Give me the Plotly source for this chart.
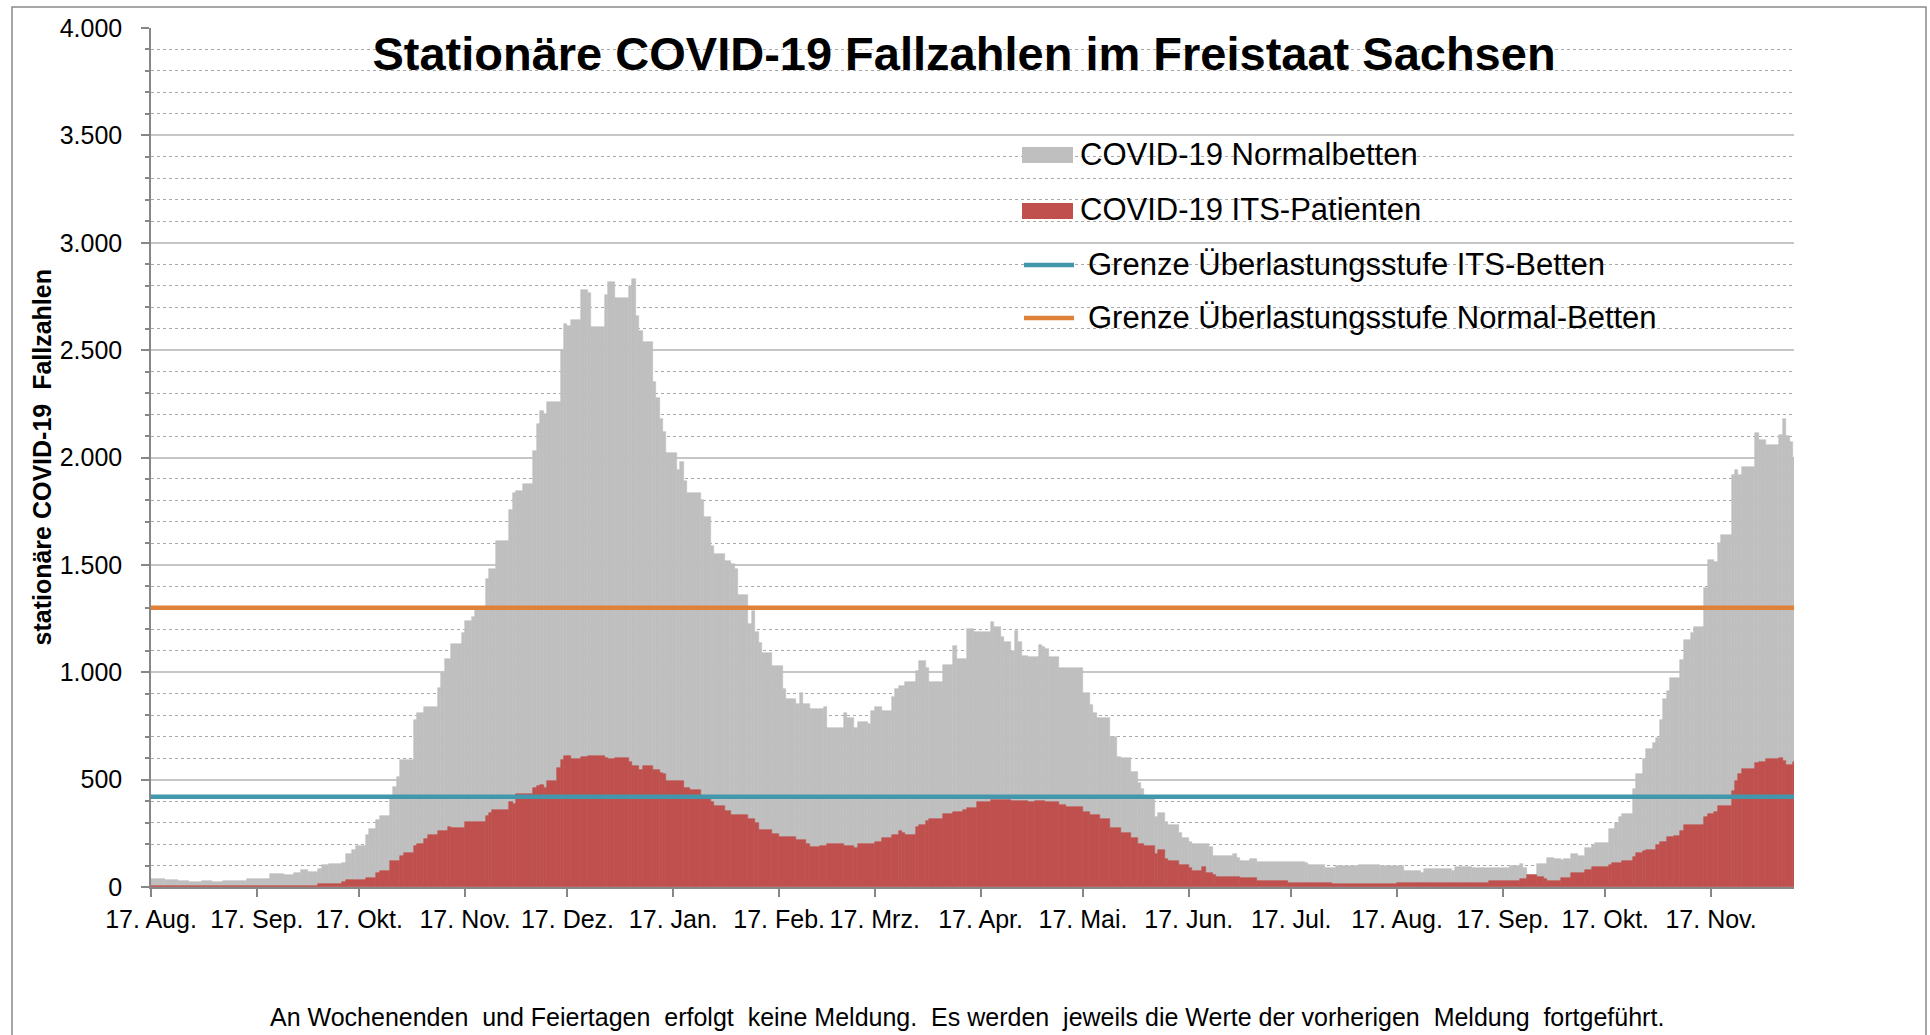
import pandas as pd
import plotly.graph_objects as go

# ---------------- data ----------------
AXIS_START = "2020-08-17"
AXIS_END = "2021-12-11 07:00"

# COVID-19 Normalbetten (Meldetag ab dem der Wert gilt, Wert)
normal_dates = [
    "2020-08-17", "2020-08-21", "2020-08-25", "2020-08-28",
    "2020-09-01", "2020-09-04", "2020-09-07", "2020-09-14", "2020-09-21", "2020-09-25", "2020-09-28", "2020-09-30",
    "2020-10-02", "2020-10-05", "2020-10-06", "2020-10-08", "2020-10-12", "2020-10-13", "2020-10-15", "2020-10-16",
    "2020-10-19", "2020-10-20", "2020-10-22", "2020-10-23", "2020-10-26", "2020-10-27", "2020-10-28", "2020-10-29",
    "2020-11-02", "2020-11-03", "2020-11-05", "2020-11-09", "2020-11-10", "2020-11-11", "2020-11-13", "2020-11-16",
    "2020-11-17", "2020-11-19", "2020-11-20", "2020-11-23", "2020-11-24", "2020-11-26", "2020-11-30",
    "2020-12-01", "2020-12-02", "2020-12-04", "2020-12-07", "2020-12-08", "2020-12-09", "2020-12-10", "2020-12-11",
    "2020-12-15", "2020-12-16", "2020-12-17", "2020-12-18", "2020-12-21", "2020-12-23", "2020-12-24", "2020-12-28",
    "2020-12-29", "2020-12-31",
    "2021-01-04", "2021-01-05", "2021-01-06", "2021-01-07", "2021-01-08", "2021-01-11", "2021-01-12", "2021-01-13",
    "2021-01-14", "2021-01-15", "2021-01-18", "2021-01-19", "2021-01-20", "2021-01-21", "2021-01-25", "2021-01-26",
    "2021-01-28", "2021-01-29",
    "2021-02-01", "2021-02-03", "2021-02-04", "2021-02-05", "2021-02-08", "2021-02-09", "2021-02-10", "2021-02-11",
    "2021-02-12", "2021-02-15", "2021-02-18", "2021-02-19", "2021-02-22", "2021-02-23", "2021-02-24", "2021-02-26",
    "2021-03-02", "2021-03-03", "2021-03-08", "2021-03-09", "2021-03-11", "2021-03-12", "2021-03-15", "2021-03-16",
    "2021-03-17", "2021-03-19", "2021-03-22", "2021-03-23", "2021-03-24", "2021-03-26", "2021-03-29", "2021-03-30",
    "2021-04-01", "2021-04-02", "2021-04-06", "2021-04-09", "2021-04-10", "2021-04-13", "2021-04-15", "2021-04-20",
    "2021-04-21", "2021-04-23", "2021-04-24", "2021-04-26", "2021-04-27", "2021-04-28", "2021-04-29",
    "2021-05-01", "2021-05-04", "2021-05-05", "2021-05-06", "2021-05-07", "2021-05-10", "2021-05-17", "2021-05-19",
    "2021-05-20", "2021-05-21", "2021-05-25", "2021-05-27", "2021-05-28", "2021-05-31",
    "2021-06-02", "2021-06-03", "2021-06-04", "2021-06-07", "2021-06-08", "2021-06-10", "2021-06-11", "2021-06-14",
    "2021-06-15", "2021-06-17", "2021-06-18", "2021-06-23", "2021-06-24", "2021-06-30",
    "2021-07-01", "2021-07-02", "2021-07-05", "2021-07-07", "2021-07-21", "2021-07-22", "2021-07-27", "2021-07-30",
    "2021-08-06", "2021-08-12", "2021-08-19", "2021-08-24", "2021-08-25", "2021-08-28",
    "2021-09-02", "2021-09-03", "2021-09-08", "2021-09-19", "2021-09-22", "2021-09-23", "2021-09-24", "2021-09-27",
    "2021-09-30",
    "2021-10-02", "2021-10-04", "2021-10-05", "2021-10-07", "2021-10-09", "2021-10-11", "2021-10-13", "2021-10-14",
    "2021-10-18", "2021-10-20", "2021-10-21", "2021-10-22", "2021-10-25", "2021-10-26", "2021-10-28", "2021-10-29",
    "2021-10-31",
    "2021-11-01", "2021-11-02", "2021-11-03", "2021-11-04", "2021-11-05", "2021-11-08", "2021-11-09", "2021-11-11",
    "2021-11-12", "2021-11-15", "2021-11-16", "2021-11-18", "2021-11-19", "2021-11-20", "2021-11-23", "2021-11-24",
    "2021-11-25", "2021-11-26", "2021-11-30",
    "2021-12-01", "2021-12-03", "2021-12-07", "2021-12-08", "2021-12-09", "2021-12-10", "2021-12-11",
]
normal_values = [
    36, 33, 30, 22,
    30, 22, 30, 37, 60, 56, 67, 79,
    68, 82, 102, 107, 110, 152, 172, 192,
    242, 268, 312, 330, 420, 467, 510, 591,
    777, 809, 840, 928, 995, 1060, 1131, 1184,
    1238, 1259, 1305, 1434, 1479, 1613, 1755,
    1835, 1844, 1878, 2031, 2154, 2215, 2202, 2259,
    2500, 2623, 2614, 2642, 2781, 2766, 2608, 2756,
    2819, 2741,
    2798, 2829, 2661, 2591, 2536, 2352, 2278, 2181,
    2120, 2023, 1943, 1977, 1892, 1835, 1802, 1721,
    1588, 1550,
    1516, 1502, 1483, 1360, 1227, 1283, 1189, 1137,
    1088, 1027, 923, 875, 852, 904, 852, 828,
    838, 742, 812, 785, 742, 767, 759, 819,
    837, 821, 883, 920, 936, 956, 1007, 1052,
    1018, 956, 1034, 1122, 1062, 1200, 1186, 1235,
    1212, 1166, 1142, 1099, 1193, 1142, 1076,
    1069, 1127, 1119, 1107, 1069, 1018, 902, 847,
    812, 785, 700, 607, 599, 534,
    486, 455, 415, 324, 346, 304, 289, 250,
    227, 211, 200, 188, 146, 154,
    133, 121, 129, 118, 110, 102, 87, 98,
    102, 98, 75, 67, 82, 84,
    76, 92, 87, 98, 107, 87, 56, 107,
    137,
    130, 126, 130, 154, 144, 180, 196, 206,
    268, 296, 324, 340, 455, 526, 596, 641,
    669,
    692, 778, 874, 914, 972, 1057, 1150, 1184,
    1212, 1391, 1523, 1515, 1600, 1639, 1918, 1942,
    1918, 1957, 2115,
    2081, 2058, 2105, 2177, 2100, 2073, 2000,
]

# COVID-19 ITS-Patienten
its_dates = [
    "2020-08-17", "2020-10-05", "2020-10-12", "2020-10-13", "2020-10-19", "2020-10-22", "2020-10-23", "2020-10-26",
    "2020-10-29", "2020-10-30",
    "2020-11-02", "2020-11-03", "2020-11-05", "2020-11-06", "2020-11-09", "2020-11-12", "2020-11-13", "2020-11-17",
    "2020-11-23", "2020-11-24", "2020-11-25", "2020-11-30",
    "2020-12-01", "2020-12-02", "2020-12-07", "2020-12-08", "2020-12-09", "2020-12-10", "2020-12-11", "2020-12-14",
    "2020-12-15", "2020-12-16", "2020-12-18", "2020-12-21", "2020-12-23", "2020-12-28", "2020-12-29", "2020-12-31",
    "2021-01-04", "2021-01-05", "2021-01-07", "2021-01-08", "2021-01-11", "2021-01-13", "2021-01-14", "2021-01-15",
    "2021-01-20", "2021-01-22", "2021-01-25", "2021-01-28", "2021-01-29",
    "2021-02-01", "2021-02-03", "2021-02-08", "2021-02-10", "2021-02-11", "2021-02-15", "2021-02-17", "2021-02-22",
    "2021-02-25", "2021-02-26",
    "2021-03-01", "2021-03-03", "2021-03-08", "2021-03-11", "2021-03-12", "2021-03-17", "2021-03-19", "2021-03-22",
    "2021-03-24", "2021-03-25", "2021-03-26", "2021-03-29", "2021-03-30",
    "2021-04-01", "2021-04-02", "2021-04-06", "2021-04-09", "2021-04-12", "2021-04-13", "2021-04-16", "2021-04-20",
    "2021-04-26",
    "2021-05-01", "2021-05-03", "2021-05-06", "2021-05-10", "2021-05-12", "2021-05-17", "2021-05-19", "2021-05-22",
    "2021-05-25", "2021-05-28", "2021-05-31",
    "2021-06-02", "2021-06-04", "2021-06-07", "2021-06-08", "2021-06-10", "2021-06-11", "2021-06-14", "2021-06-17",
    "2021-06-18", "2021-06-21", "2021-06-22", "2021-06-24", "2021-06-25",
    "2021-07-02", "2021-07-07", "2021-07-16", "2021-07-29", "2021-08-17", "2021-08-24", "2021-08-28", "2021-09-13",
    "2021-09-22", "2021-09-24", "2021-09-27", "2021-09-29", "2021-09-30",
    "2021-10-04", "2021-10-07", "2021-10-11", "2021-10-13", "2021-10-18", "2021-10-19", "2021-10-22", "2021-10-25",
    "2021-10-26", "2021-10-28", "2021-10-29",
    "2021-11-01", "2021-11-02", "2021-11-04", "2021-11-06", "2021-11-08", "2021-11-09", "2021-11-15", "2021-11-16",
    "2021-11-18", "2021-11-19", "2021-11-23", "2021-11-24", "2021-11-25", "2021-11-26", "2021-11-30",
    "2021-12-01", "2021-12-03", "2021-12-07", "2021-12-08", "2021-12-09", "2021-12-11",
]
its_values = [
    6, 14, 22, 33, 40, 67, 76, 121,
    146, 157,
    192, 200, 222, 244, 262, 281, 273, 304,
    332, 343, 358, 397,
    387, 433, 461, 471, 476, 463, 494, 556,
    590, 609, 594, 605, 609, 600, 594, 600,
    581, 562, 547, 562, 543, 533, 524, 492,
    461, 452, 419, 397, 378,
    353, 334, 315, 296, 267, 248, 235, 220,
    201, 186,
    191, 199, 191, 180, 199, 208, 227, 242,
    262, 253, 242, 278, 287,
    309, 315, 340, 348, 359, 366, 394, 405,
    402,
    397, 400, 394, 380, 374, 351, 335, 315,
    273, 250, 227,
    200, 191, 154, 172, 129, 121, 102, 87,
    74, 92, 64, 56, 48,
    40, 29, 20, 12, 20, 17, 20, 29,
    36, 56, 45, 36, 29,
    40, 67, 79, 92, 102, 113, 121, 138,
    157, 169, 172,
    196, 211, 231, 237, 262, 289, 324, 340,
    351, 377, 449, 494, 526, 548, 579,
    584, 594, 599, 588, 568, 584,
]

its_limit = 420        # Grenze Überlastungsstufe ITS-Betten
normal_limit = 1300    # Grenze Überlastungsstufe Normal-Betten

tick_dates = [
    "2020-08-17", "2020-09-17", "2020-10-17", "2020-11-17", "2020-12-17", "2021-01-17", "2021-02-17", "2021-03-17",
    "2021-04-17", "2021-05-17", "2021-06-17", "2021-07-17", "2021-08-17", "2021-09-17", "2021-10-17", "2021-11-17",
]
tick_labels = [
    "17. Aug.", "17. Sep.", "17. Okt.", "17. Nov.", "17. Dez.", "17. Jan.", "17. Feb.", "17. Mrz.",
    "17. Apr.", "17. Mai.", "17. Jun.", "17. Jul.", "17. Aug.", "17. Sep.", "17. Okt.", "17. Nov.",
]

# ---------------- style ----------------
FONT = "Liberation Sans, Arial, Helvetica, sans-serif"
GRAY = "#BFBFBF"
RED = "#C0504D"
BLUE = "#4397AD"
ORANGE = "#DF8139"
AXIS_COL = "#878787"

W, H = 1930, 1035
L, R, T, B = 151, 1794, 28, 887


def px(x):
    return (x - L) / (R - L)


def py(y):
    return (B - y) / (B - T)


def spans(dates):
    d = pd.to_datetime(pd.Series(dates))
    nxt = d.shift(-1)
    nxt.iloc[-1] = d.iloc[-1] + pd.Timedelta(days=1)
    return ((nxt - d).dt.total_seconds() * 1000).tolist()


fig = go.Figure()
fig.add_trace(go.Bar(
    x=normal_dates, y=normal_values, width=spans(normal_dates), offset=0,
    marker=dict(color=GRAY, line=dict(color=GRAY, width=0.6)),
    name="COVID-19 Normalbetten", showlegend=False, hoverinfo="x+y",
))
fig.add_trace(go.Bar(
    x=its_dates, y=its_values, width=spans(its_dates), offset=0,
    marker=dict(color=RED, line=dict(color=RED, width=0.6)),
    name="COVID-19 ITS-Patienten", showlegend=False, hoverinfo="x+y",
))
fig.add_trace(go.Scatter(
    x=[AXIS_START, AXIS_END], y=[its_limit, its_limit], mode="lines",
    line=dict(color=BLUE, width=4.5), name="Grenze Überlastungsstufe ITS-Betten", showlegend=False,
))
fig.add_trace(go.Scatter(
    x=[AXIS_START, AXIS_END], y=[normal_limit, normal_limit], mode="lines",
    line=dict(color=ORANGE, width=4.5), name="Grenze Überlastungsstufe Normal-Betten", showlegend=False,
))

shapes = [
    # outer chart border
    dict(type="rect", xref="paper", yref="paper", x0=px(12), x1=px(1926), y0=py(1100), y1=py(7),
         line=dict(color="#8a8a8a", width=1.5), fillcolor="rgba(0,0,0,0)", layer="above"),
    # legend symbols
    dict(type="rect", xref="paper", yref="paper", x0=px(1022), x1=px(1073), y0=py(163), y1=py(147),
         line=dict(width=0), fillcolor=GRAY),
    dict(type="rect", xref="paper", yref="paper", x0=px(1022), x1=px(1073), y0=py(219), y1=py(203),
         line=dict(width=0), fillcolor=RED),
    dict(type="line", xref="paper", yref="paper", x0=px(1024), x1=px(1074), y0=py(265), y1=py(265),
         line=dict(color=BLUE, width=4.5)),
    dict(type="line", xref="paper", yref="paper", x0=px(1024), x1=px(1074), y0=py(318), y1=py(318),
         line=dict(color=ORANGE, width=4.5)),
]

legend_font = dict(family=FONT, size=31, color="black")
annotations = [
    dict(text="COVID-19 Normalbetten", x=px(1078), y=py(154), xref="paper", yref="paper",
         xanchor="left", yanchor="middle", showarrow=False, font=legend_font),
    dict(text="COVID-19 ITS-Patienten", x=px(1078), y=py(209), xref="paper", yref="paper",
         xanchor="left", yanchor="middle", showarrow=False, font=legend_font),
    dict(text="Grenze Überlastungsstufe ITS-Betten", x=px(1086), y=py(264), xref="paper", yref="paper",
         xanchor="left", yanchor="middle", showarrow=False, font=legend_font),
    dict(text="Grenze Überlastungsstufe Normal-Betten", x=px(1086), y=py(317), xref="paper", yref="paper",
         xanchor="left", yanchor="middle", showarrow=False, font=legend_font),
    dict(text="<b>stationäre COVID-19\u00a0 Fallzahlen</b>", x=px(41), y=0.5, xref="paper", yref="paper",
         xanchor="center", yanchor="middle", textangle=-90, showarrow=False,
         font=dict(family=FONT, size=25, color="black")),
    dict(text="An Wochenenden\u00a0 und Feiertagen\u00a0 erfolgt\u00a0 keine Meldung.\u00a0 Es werden\u00a0 jeweils "
              "die Werte der vorherigen\u00a0 Meldung\u00a0 fortgeführt.",
         x=px(967), y=py(1017), xref="paper", yref="paper", xanchor="center", yanchor="middle",
         showarrow=False, font=dict(family=FONT, size=25, color="black")),
]

fig.update_layout(
    width=W, height=H, autosize=False,
    margin=dict(l=L, r=W - R, t=T, b=H - B, pad=0),
    paper_bgcolor="white", plot_bgcolor="white",
    barmode="overlay", bargap=0,
    separators=",.",
    font=dict(family=FONT, color="black"),
    title=dict(text="<b>Stationäre COVID-19 Fallzahlen im Freistaat Sachsen</b>",
               x=964 / W, y=1 - 54 / H, xref="container", yref="container",
               xanchor="center", yanchor="middle",
               font=dict(family=FONT, size=47, color="black")),
    xaxis=dict(
        type="date", range=[AXIS_START, AXIS_END], tickvals=tick_dates, ticktext=tick_labels,
        ticks="outside", ticklen=8, tickwidth=1.5, tickcolor=AXIS_COL,
        showline=True, linecolor=AXIS_COL, linewidth=2, showgrid=False, zeroline=False,
        tickfont=dict(family=FONT, size=25, color="black"), ticklabelstandoff=1,
    ),
    yaxis=dict(
        range=[0, 4000], tick0=0, dtick=500, tickformat=",.0f",
        ticks="outside", ticklen=8, tickwidth=1.5, tickcolor=AXIS_COL,
        showline=True, linecolor=AXIS_COL, linewidth=1.5, zeroline=False,
        showgrid=True, gridcolor="#c6c6c6", gridwidth=1.5,
        minor=dict(dtick=100, showgrid=True, gridcolor="#a9a9a9", gridwidth=1, griddash="dot",
                   ticks="outside", ticklen=4, tickcolor=AXIS_COL),
        tickfont=dict(family=FONT, size=25, color="black"), ticklabelstandoff=14,
    ),
    shapes=shapes,
    annotations=annotations,
)

fig.write_html("out.html", config={"displayModeBar": False},
               post_script="document.body.style.margin='0px';")
